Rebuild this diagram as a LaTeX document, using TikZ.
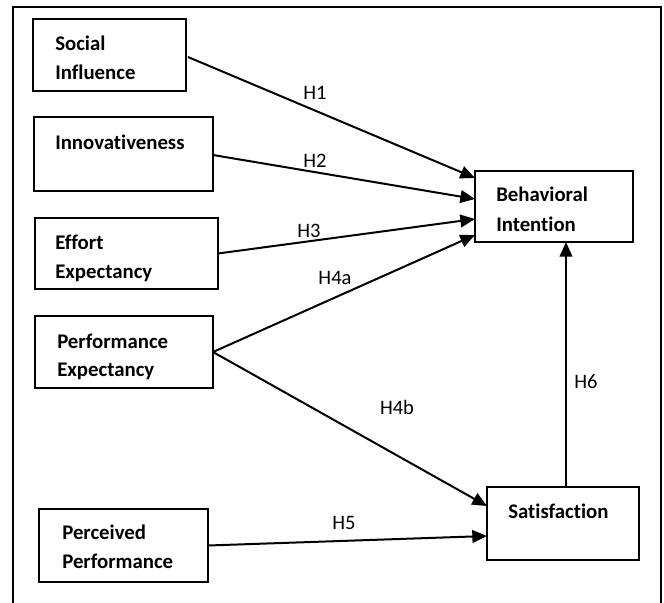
\documentclass[tikz,border=0pt]{standalone}
\usepackage{fontspec}
\setmainfont{Carlito}[Ligatures={NoCommon}]
\usetikzlibrary{arrows.meta,fit,calc}
\begin{document}
\begin{tikzpicture}[x=0.75pt,y=-0.75pt,
  box/.style={draw=black,line width=1.8pt,inner sep=0pt,outer sep=0pt,rectangle},
  txt/.style={anchor=base west,inner sep=0pt,font=\fontsize{15.6}{18}\selectfont\bfseries},
  hyp/.style={inner sep=0pt,font=\fontsize{15.4}{18}\selectfont},
  link/.style={line width=1.5pt,-{Triangle[length=11pt,width=9.5pt]}}]
\useasboundingbox (0,0) rectangle (664,603);
\draw[line width=1.1pt] (13,603) -- (13,7) -- (661,7) -- (661,603);
% boxes
\node[box,fit={(33,19) (186,91)}] (si) {};
\node[box,fit={(34,117) (213,191)}] (in) {};
\node[box,fit={(35,218) (218,289)}] (ee) {};
\node[box,fit={(35,316) (213,388)}] (pe) {};
\node[box,fit={(39,509) (208,582)}] (pp) {};
\node[box,fit={(475,171) (633,242)}] (bi) {};
\node[box,fit={(487,487) (639,560)}] (sa) {};
% texts
\node[txt] (si1) at (55,50) {Social};
\node[txt] (si2) at (55,79) {Influence};
\node[txt] (in1) at (55,149) {Innovativeness};
\node[txt] (ee1) at (55,249) {Effort};
\node[txt] (ee2) at (55,278) {Expectancy};
\node[txt] (pe1) at (57,348) {Performance};
\node[txt] (pe2) at (57,376) {Expectancy};
\node[txt] (pp1) at (62,539) {Perceived};
\node[txt] (pp2) at (62,568) {Performance};
\node[txt] (bi1) at (496,201) {Behavioral};
\node[txt] (bi2) at (496,231) {Intention};
\node[txt] (sa1) at (508,518) {Satisfaction};
% connectors
\draw[link] ($(si.east)+(2,2)$) -- ($(bi.west)+(0,-28.5)$);
\draw[link] ($(in.east)+(0,1)$) -- ($(bi.west)+(0,-7.5)$);
\draw[link] (ee.east) -- ($(bi.west)+(0,12.5)$);
\draw[link] (pe.east) -- ($(bi.west)+(0,28.5)$);
\draw[link] (pe.east) -- ($(sa.west)+(0,-17.5)$);
\draw[link] (pp.east) -- ($(sa.west)+(0,12.5)$);
\draw[link] ($(sa.north)+(3,0)$) -- ($(bi.south)+(12,0)$);
% labels
\node[hyp] (h1) at (315,93) {H1};
\node[hyp] (h2) at (315,161) {H2};
\node[hyp] (h3) at (309,231) {H3};
\node[hyp] (h4a) at (335,278) {H4a};
\node[hyp] (h4b) at (397,407) {H4b};
\node[hyp] (h5) at (344,523) {H5};
\node[hyp] (h6) at (586,382) {H6};
\end{tikzpicture}
\end{document}
